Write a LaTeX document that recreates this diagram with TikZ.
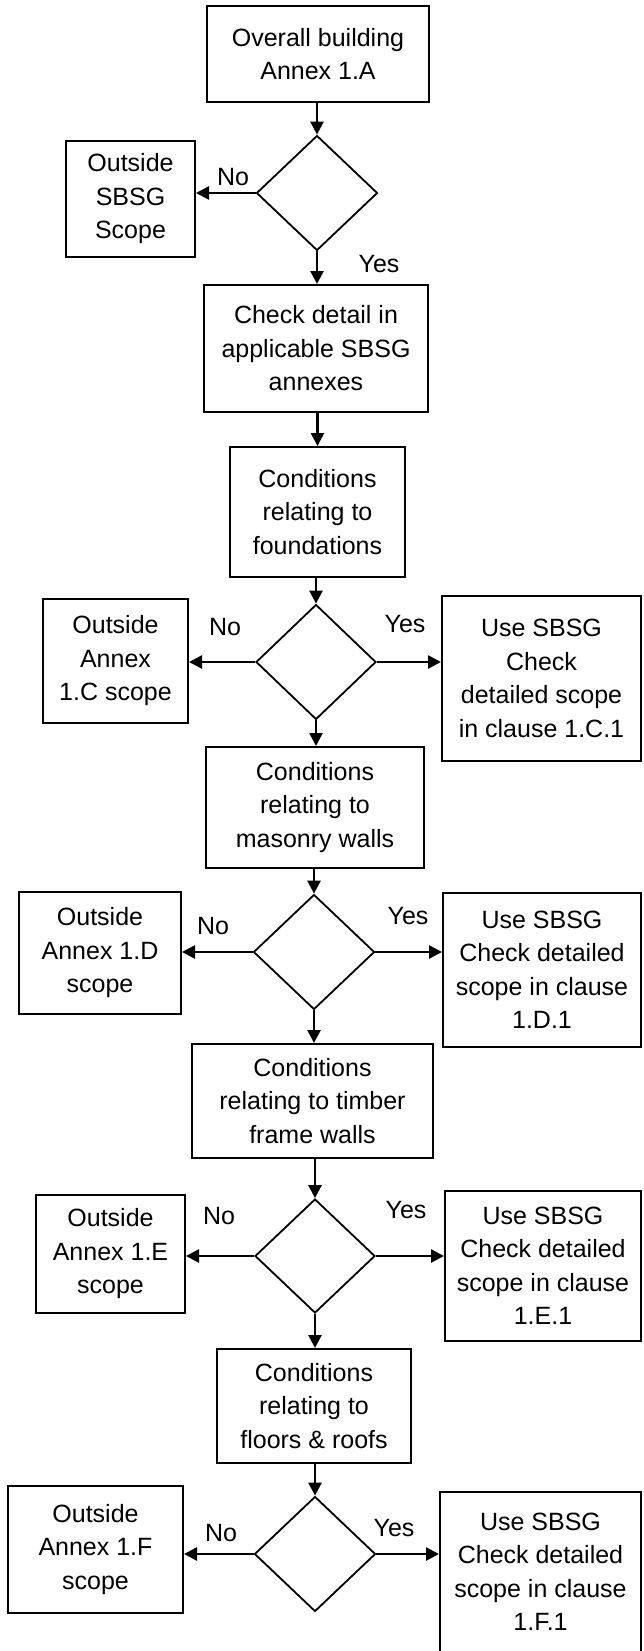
\documentclass[tikz,border=0pt]{standalone}
\usepackage{fontspec}
\setmainfont{Liberation Sans}
\usetikzlibrary{shapes.geometric,arrows.meta}
\begin{document}
\begin{tikzpicture}[x=1pt,y=-1pt,
  box/.style={draw,line width=2pt,align=center,inner sep=0pt,font=\fontsize{25}{33.5}\selectfont},
  dec/.style={draw,diamond,line width=1.8pt,inner sep=0pt},
  arr/.style={line width=2.6pt,-{Triangle[length=13pt,width=13pt]}},
  lab/.style={font=\fontsize{25}{28}\selectfont,inner sep=0pt}]
\useasboundingbox (0,0) rectangle (643,1651);
\fill[white] (0,0) rectangle (643,1651);

% main column
\node[box,minimum width=222pt,minimum height=96pt] (b1) at (318,54) {Overall building\\Annex 1.A};
\node[dec,minimum width=121pt,minimum height=115pt] (d1) at (317,193) {};
\node[box,minimum width=129pt,minimum height=116pt] (o1) at (130.5,199) {Outside\\SBSG\\Scope};
\node[box,minimum width=224pt,minimum height=127pt] (b2) at (316,348.5) {Check detail in\\applicable SBSG\\annexes};
\node[box,minimum width=175pt,minimum height=130pt] (b3) at (317.5,512) {Conditions\\relating to\\foundations};
\node[dec,minimum width=120pt,minimum height=115pt] (d2) at (316,662) {};
\node[box,minimum width=145pt,minimum height=124pt] (o2) at (115.5,661) {Outside\\Annex\\1.C scope};
\node[box,minimum width=199pt,minimum height=165pt] (u2) at (541.5,678.5) {Use SBSG\\Check\\detailed scope\\in clause 1.C.1};
\node[box,minimum width=218pt,minimum height=121pt] (b4) at (315,807.5) {Conditions\\relating to\\masonry walls};
\node[dec,minimum width=121pt,minimum height=115pt] (d3) at (314,952) {};
\node[box,minimum width=162pt,minimum height=122pt] (o3) at (100,953) {Outside\\Annex 1.D\\scope};
\node[box,minimum width=198pt,minimum height=154pt] (u3) at (542,970) {Use SBSG\\Check detailed\\scope in clause\\1.D.1};
\node[box,minimum width=241pt,minimum height=114pt] (b5) at (312.5,1101) {Conditions\\relating to timber\\frame walls};
\node[dec,minimum width=120pt,minimum height=114pt] (d4) at (315,1256) {};
\node[box,minimum width=149pt,minimum height=118pt] (o4) at (110.5,1254) {Outside\\Annex 1.E\\scope};
\node[box,minimum width=196pt,minimum height=150pt] (u4) at (543,1266) {Use SBSG\\Check detailed\\scope in clause\\1.E.1};
\node[box,minimum width=194pt,minimum height=114pt] (b6) at (314,1406) {Conditions\\relating to\\floors \& roofs};
\node[dec,minimum width=121pt,minimum height=115pt] (d5) at (315,1554) {};
\node[box,minimum width=175pt,minimum height=127pt] (o5) at (95.5,1549.5) {Outside\\Annex 1.F\\scope};
\node[box,minimum width=201pt,minimum height=160pt] (u5) at (540.5,1572) {Use SBSG\\Check detailed\\scope in clause\\1.F.1};

% labels
\node[lab] (n1) at (233,177) {No};
\node[lab] (y1) at (379,264) {Yes};
\node[lab] (n2) at (225,627) {No};
\node[lab] (y2) at (405,624) {Yes};
\node[lab] (n3) at (213,926) {No};
\node[lab] (y3) at (408,916) {Yes};
\node[lab] (n4) at (219,1216) {No};
\node[lab] (y4) at (406,1210) {Yes};
\node[lab] (n5) at (221,1533) {No};
\node[lab] (y5) at (394,1528) {Yes};

% connectors
\draw[arr] (b1.south -| d1.north) -- (d1.north);
\draw[arr] (d1.west) -- (d1.west -| o1.east);
\draw[arr] (d1.south) -- (d1.south |- b2.north);
\draw[arr] (b2.south -| b3.north) -- (b3.north);
\draw[arr] (b3.south -| d2.north) -- (d2.north);
\draw[arr] (d2.west) -- (d2.west -| o2.east);
\draw[arr] (d2.east) -- (d2.east -| u2.west);
\draw[arr] (d2.south) -- (d2.south |- b4.north);
\draw[arr] (b4.south -| d3.north) -- (d3.north);
\draw[arr] (d3.west) -- (d3.west -| o3.east);
\draw[arr] (d3.east) -- (d3.east -| u3.west);
\draw[arr] (d3.south) -- (d3.south |- b5.north);
\draw[arr] (b5.south -| d4.north) -- (d4.north);
\draw[arr] (d4.west) -- (d4.west -| o4.east);
\draw[arr] (d4.east) -- (d4.east -| u4.west);
\draw[arr] (d4.south) -- (d4.south |- b6.north);
\draw[arr] (b6.south -| d5.north) -- (d5.north);
\draw[arr] (d5.west) -- (d5.west -| o5.east);
\draw[arr] (d5.east) -- (d5.east -| u5.west);
\end{tikzpicture}
\end{document}
